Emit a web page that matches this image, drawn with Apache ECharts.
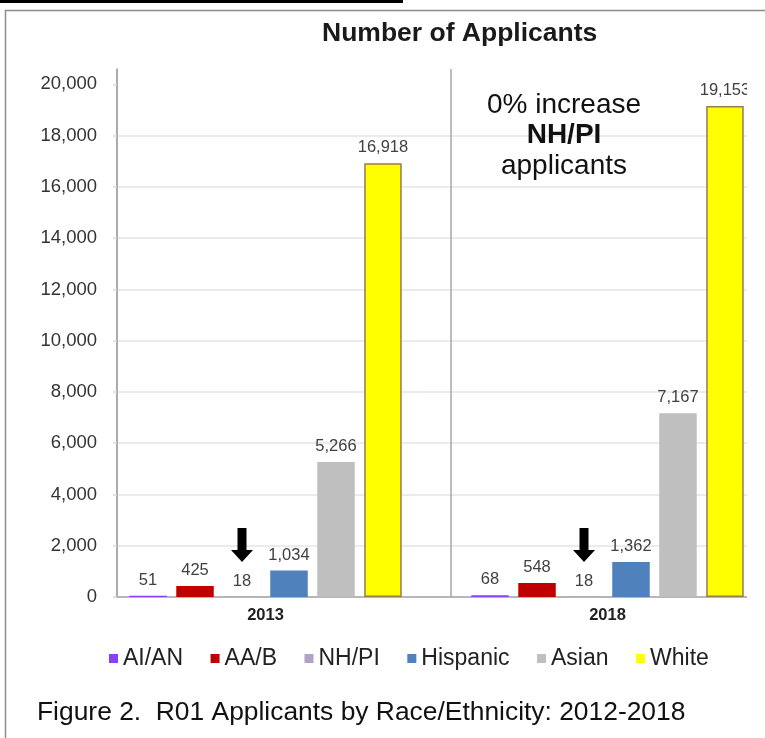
<!DOCTYPE html>
<html><head><meta charset="utf-8">
<script src="https://cdn.jsdelivr.net/npm/echarts@6/dist/echarts.min.js"></script>
<style>html,body{margin:0;padding:0;background:#fff}#c{width:765px;height:738px}</style>
</head><body><div id="c"></div>
<script>
const categories = ['2013', '2018'];
const seriesNames = ['AI/AN', 'AA/B', 'NH/PI', 'Hispanic', 'Asian', 'White'];
const aian = [51, 68];
const aab = [425, 548];
const nhpi = [18, 18];
const hispanic = [1034, 1362];
const asian = [5266, 7167];
const white = [16918, 19153];
const yTicks = [0, 2000, 4000, 6000, 8000, 10000, 12000, 14000, 16000, 18000, 20000];
const seriesColors = ['#8a3ffc', '#c00000', '#b3a2c7', '#4f81bd', '#bfbfbf', '#ffff00'];
const titleText = 'Number of Applicants';
const captionText = 'Figure 2.  R01 Applicants by Race/Ethnicity: 2012-2018';

const FONT = 'Liberation Sans, Arial, sans-serif';
const fmt = v => Number(v).toLocaleString('en-US');

function bar(i, data, extra) {
  return Object.assign({
    type: 'bar', name: seriesNames[i], data: data,
    xAxisIndex: 1, yAxisIndex: 1,
    barWidth: 37.5, barGap: '25.3%',
    itemStyle: { color: seriesColors[i] },
    label: { show: true, position: 'top', distance: 7, fontSize: 16.5, color: '#404040', fontFamily: FONT,
      formatter: p => fmt(p.value) }
  }, extra || {});
}

const chart = echarts.init(document.getElementById('c'), null, { renderer: 'canvas' });
chart.setOption({
  animation: false,
  backgroundColor: '#fff',
  title: [
    { text: titleText, left: 322, top: 20, padding: 0,
      textStyle: { fontFamily: FONT, fontSize: 26.5, fontWeight: 'bold', color: '#1a1a1a' } },
    { text: captionText, left: 37, top: 700, padding: 0,
      textStyle: { fontFamily: FONT, fontSize: 26.4, fontWeight: 'normal', color: '#111' } }
  ],
  legend: {
    data: seriesNames, left: 109, top: 647, itemGap: 27.5, itemWidth: 9, itemHeight: 9, icon: 'rect',
    padding: 0,
    itemStyle: { borderWidth: 0 },
    textStyle: { fontFamily: FONT, fontSize: 23, color: '#222' }
  },
  grid: [
    { left: 117, top: 69, width: 668, height: 528, outerBoundsMode: 'none' },
    { left: 94.5, top: 69, width: 684, height: 528, outerBoundsMode: 'none' }
  ],
  xAxis: [
    { type: 'category', gridIndex: 0, data: categories, boundaryGap: true,
      axisLine: { show: true, lineStyle: { color: '#a6a6a6', width: 1.5 } },
      axisTick: { show: false }, axisLabel: { show: false },
      splitLine: { show: true, lineStyle: { color: '#a6a6a6', width: 1.5 } } },
    { type: 'category', gridIndex: 1, data: categories,
      axisLine: { show: false }, axisTick: { show: false }, splitLine: { show: false },
      axisLabel: { margin: 10, fontFamily: FONT, fontSize: 16.5, fontWeight: 'bold', color: '#222' } }
  ],
  yAxis: [
    { type: 'value', gridIndex: 0, min: 0, max: 20600, interval: 2000,
      axisLine: { show: true, lineStyle: { color: '#a6a6a6', width: 1.5 } },
      axisTick: { show: true, length: 4, customValues: yTicks, lineStyle: { color: '#d9d9d9', width: 1.5 } },
      axisLabel: { margin: 20, customValues: yTicks, fontFamily: FONT, fontSize: 18.5, color: '#333',
        formatter: v => (v > 20000 ? '' : fmt(v)) },
      splitLine: { show: true, showMaxLine: false, lineStyle: { color: '#e4e4e4', width: 1.5 } } },
    { type: 'value', gridIndex: 1, min: 0, max: 20600, show: false, splitLine: { show: false } }
  ],
  series: [
    bar(0, aian),
    bar(1, aab),
    bar(2, nhpi, {
      markPoint: {
        symbol: 'path://M6.5,0 L15.5,0 L15.5,22 L22,22 L11,34 L0,22 L6.5,22 Z',
        symbolSize: [22, 34], symbolOffset: [0, -51.5],
        itemStyle: { color: '#000' }, label: { show: false },
        data: categories.map((c, i) => ({ coord: [c, nhpi[i]] }))
      }
    }),
    bar(3, hispanic),
    bar(4, asian),
    bar(5, white, { itemStyle: { color: seriesColors[5], borderColor: '#9a7b4f', borderWidth: 1.5 } })
  ],
  graphic: [
    { type: 'rect', silent: true, z: 100, shape: { x: 747, y: 40, width: 18, height: 580 }, style: { fill: '#fff' } },
    { type: 'rect', silent: true, z: 101, shape: { x: 0, y: 0, width: 403, height: 3 }, style: { fill: '#000' } },
    { type: 'polyline', silent: true, z: 101, shape: { points: [[765, 10.5], [5.5, 10.5], [5.5, 738]] },
      style: { stroke: '#8c8c8c', lineWidth: 1.5, fill: null } },
    { type: 'text', silent: true, z: 50, x: 564, y: 90,
      style: {
        text: '{n|0% increase}\n{b|NH/PI}\n{n|applicants}',
        textAlign: 'center', textVerticalAlign: 'top',
        rich: {
          n: { fontFamily: FONT, fontSize: 28, fontWeight: 'normal', fill: '#111', lineHeight: 30.5, align: 'center' },
          b: { fontFamily: FONT, fontSize: 28, fontWeight: 'bold', fill: '#111', lineHeight: 30.5, align: 'center' }
        }
      } }
  ]
});
</script>
</body></html>
